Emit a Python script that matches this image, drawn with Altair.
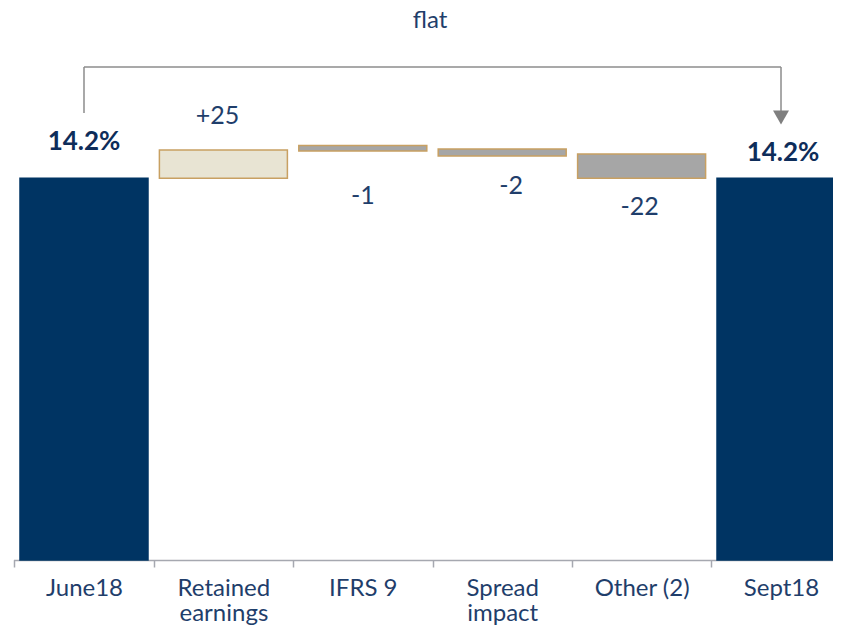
import altair as alt
import pandas as pd

# ---- data ----
categories = ["June18", "Retained\nearnings", "IFRS 9", "Spread\nimpact", "Other (2)", "Sept18"]
kinds = ["total", "up", "down", "down", "down", "total"]
# bar extents, in basis points of CET1 ratio (axis does not start at zero)
AXIS_FLOOR = 1079
AXIS_TOP = 1536.3
bar_low = [AXIS_FLOOR, 1420, 1444.3, 1439.8, 1420, AXIS_FLOOR]
bar_high = [1420, 1445.2, 1449.2, 1446.1, 1441.6, 1420]
value_labels = ["14.2%", "+25", "-1", "-2", "-22", "14.2%"]
bracket_text = "flat"

df = pd.DataFrame({
    "category": categories,
    "kind": kinds,
    "low": bar_low,
    "high": bar_high,
    "label": value_labels,
})
df["anchor"] = [h if k != "down" else l for k, l, h in zip(kinds, bar_low, bar_high)]

bracket = pd.DataFrame({"start": [categories[0]], "end": [categories[-1]], "text": [bracket_text]})

NAVY = "#003463"
TEXT = "#1F3E6B"
GOLD = "#C8A062"
FONT = "Lato"

x_scale = alt.Scale(domain=categories, range=[5.4, 843.6], paddingInner=0.0818, paddingOuter=0.0473)
y_scale = alt.Scale(domain=[AXIS_FLOOR, AXIS_TOP], nice=False, zero=False)

step_half = 69.7
x_axis = alt.Axis(title=None, labelExpr="split(datum.label, '\\n')",
                  labelFont=FONT, labelFontSize=24, labelColor=TEXT,
                  labelLineHeight=25, labelPadding=9, labelAngle=0,
                  tickSize=7, tickColor="#A6A8B0", tickWidth=1.5,
                  domainColor="#A6A8B0", domainWidth=1.5,
                  tickOffset=-step_half, labelOffset=step_half,
                  labelBaseline="top", grid=False)


def X(field):
    return alt.X(field, type="nominal", scale=x_scale, sort=categories, axis=x_axis)


bars = alt.Chart(df).mark_bar(strokeWidth=1.5).encode(
    x=X("category"),
    y=alt.Y("low:Q", scale=y_scale, axis=None),
    y2="high:Q",
    fill=alt.Fill("kind:N", scale=alt.Scale(domain=["total", "up", "down"],
                                            range=[NAVY, "#E8E4D3", "#A6A6A6"]), legend=None),
    stroke=alt.Stroke("kind:N", scale=alt.Scale(domain=["total", "up", "down"],
                                                range=[NAVY, GOLD, GOLD]), legend=None),
)

# per-label offsets (styling)
offsets = {
    0: (0, -36, True),
    1: (-6, -34, False),
    2: (0, 45, False),
    3: (9, 30, False),
    4: (-2, 29, False),
    5: (2, -25, True),
}
text_layers = []
for i, (dx, dy, bold) in offsets.items():
    text_layers.append(
        alt.Chart(df).transform_filter(alt.datum.category == categories[i]).mark_text(
            dx=dx, dy=dy, baseline="middle", align="center", font=FONT,
            fontSize=26 if bold else 25, fontWeight="bold" if bold else "normal",
            color="#0E2D5A" if bold else TEXT,
        ).encode(
            x=X("category"),
            y=alt.Y("anchor:Q", scale=y_scale, axis=None),
            text="label:N",
        )
    )

GRAY = "#8C8C8C"
left_v = alt.Chart(bracket).mark_rule(color=GRAY, strokeWidth=1.5).encode(
    x=X("start"), y=alt.value(65), y2=alt.value(19))
top_h = alt.Chart(bracket).mark_rule(color=GRAY, strokeWidth=1.5).encode(
    x=X("start"), x2="end:N", y=alt.value(19))
right_v = alt.Chart(bracket).mark_rule(color=GRAY, strokeWidth=1.5).encode(
    x=X("end"), y=alt.value(19), y2=alt.value(63))
arrow = alt.Chart(bracket).mark_point(shape="triangle-down", filled=True, color="#7F7F7F",
                                      size=256, opacity=1).encode(
    x=X("end"), y=alt.value(69.5))
flat = alt.Chart(bracket).mark_text(font=FONT, fontSize=24, color=TEXT, baseline="alphabetic",
                                    align="center").encode(
    x=alt.value(422), y=alt.value(-20), text="text:N")

chart = alt.layer(bars, *text_layers, left_v, top_h, right_v, arrow, flat).properties(
    width=825, height=512,
    background="white",
    autosize=alt.AutoSizeParams(type="none"),
    padding={"left": 0, "top": 40, "right": 0, "bottom": 65},
).configure_view(strokeWidth=0, stroke=None)

chart.save("out.html", embed_options={"renderer": "svg", "actions": False})
